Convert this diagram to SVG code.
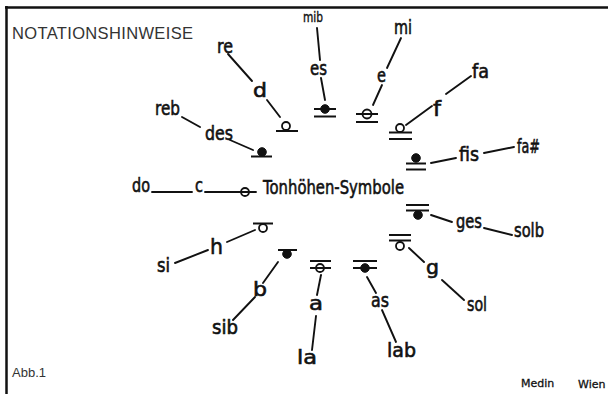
<svg xmlns="http://www.w3.org/2000/svg" width="608" height="394" viewBox="0 0 608 394">
<style>
.hw{font-family:"DejaVu Sans","Liberation Sans",sans-serif;font-size:19px;fill:#111;stroke:#111;stroke-width:0.6}
.sm{font-size:14px;stroke-width:0.4}
.big{font-size:20px}
.tall{font-size:22px}
.sig{font-size:11px;stroke-width:0.3}
.ttl{font-family:"Liberation Sans",Arial,sans-serif;fill:#333}
.ln{stroke:#111;stroke-width:1.9;stroke-linecap:round;fill:none}
.lg{stroke:#111;stroke-width:2;fill:none}
.op{fill:#fff;stroke:#111;stroke-width:1.8}
.fl{fill:#111;stroke:#111;stroke-width:1}
.fr{stroke:#111;stroke-width:2.5;fill:none}
</style>
<rect width="608" height="394" fill="#fff"/>
<g id="frame">
<line class="fr" x1="5" y1="7.5" x2="608" y2="7.5"/>
<line class="fr" x1="6.5" y1="6" x2="6.5" y2="394"/>
</g>
<text class="ttl" x="12" y="39" font-size="16.5" textLength="181" lengthAdjust="spacing">NOTATIONSHINWEISE</text>
<text class="ttl" x="12" y="377" font-size="13">Abb.1</text>
<g id="connectors">
<line class="ln" x1="228" y1="54" x2="252" y2="81"/>
<line class="ln" x1="267" y1="100" x2="280" y2="117"/>
<line class="ln" x1="182" y1="117" x2="200" y2="127"/>
<line class="ln" x1="230" y1="140" x2="253" y2="150"/>
<line class="ln" x1="317" y1="28" x2="320" y2="60"/>
<line class="ln" x1="321" y1="78" x2="325" y2="100"/>
<line class="ln" x1="401" y1="38" x2="387" y2="68"/>
<line class="ln" x1="382" y1="85" x2="373" y2="105"/>
<line class="ln" x1="471" y1="76" x2="446" y2="94"/>
<line class="ln" x1="432" y1="106" x2="406" y2="125"/>
<line class="ln" x1="514" y1="147" x2="484" y2="153"/>
<line class="ln" x1="456" y1="158" x2="431" y2="163"/>
<line class="ln" x1="431" y1="215" x2="452" y2="222"/>
<line class="ln" x1="484" y1="228" x2="512" y2="235"/>
<line class="ln" x1="409" y1="248" x2="424" y2="262"/>
<line class="ln" x1="442" y1="280" x2="464" y2="300"/>
<line class="ln" x1="367" y1="277" x2="376" y2="293"/>
<line class="ln" x1="382" y1="310" x2="396" y2="342"/>
<line class="ln" x1="321" y1="275" x2="317" y2="295"/>
<line class="ln" x1="316" y1="316" x2="312" y2="350"/>
<line class="ln" x1="278" y1="262" x2="263" y2="283"/>
<line class="ln" x1="255" y1="297" x2="233" y2="320"/>
<line class="ln" x1="255" y1="230" x2="227" y2="242"/>
<line class="ln" x1="208" y1="250" x2="175" y2="263"/>
<line class="ln" x1="152" y1="192" x2="192" y2="192"/>
<line class="ln" x1="205" y1="192" x2="256" y2="192"/>
</g>
<g id="node-center"><text class="hw big" x="263" y="194" textLength="141" lengthAdjust="spacingAndGlyphs">Tonhöhen-Symbole</text></g>
<g id="node-c">
<circle class="op" cx="245" cy="192" r="4"/>
<line class="lg" x1="238" y1="192" x2="253" y2="192"/>
<text class="hw" x="132" y="192" textLength="18" lengthAdjust="spacingAndGlyphs">do</text>
<text class="hw" x="195" y="192" textLength="8" lengthAdjust="spacingAndGlyphs">c</text>
</g>
<g id="node-d">
<circle class="op" cx="286" cy="126" r="4"/>
<line class="lg" x1="276" y1="131" x2="298" y2="131"/>
<text class="hw" x="217" y="53" textLength="16" lengthAdjust="spacingAndGlyphs">re</text>
<text class="hw" x="253" y="97" textLength="14" lengthAdjust="spacingAndGlyphs">d</text>
</g>
<g id="node-des">
<circle class="fl" cx="262" cy="152" r="4.3"/>
<line class="lg" x1="251" y1="156.5" x2="272" y2="156.5"/>
<text class="hw" x="155" y="115" textLength="25" lengthAdjust="spacingAndGlyphs">reb</text>
<text class="hw" x="205" y="140" textLength="28" lengthAdjust="spacingAndGlyphs">des</text>
</g>
<g id="node-es">
<circle class="fl" cx="325" cy="109" r="4.3"/>
<line class="lg" x1="314" y1="109" x2="336" y2="109"/>
<line class="lg" x1="314" y1="116.5" x2="336" y2="116.5"/>
<text class="hw sm" x="303" y="22" textLength="20" lengthAdjust="spacingAndGlyphs">mib</text>
<text class="hw" x="310" y="75" textLength="17" lengthAdjust="spacingAndGlyphs">es</text>
</g>
<g id="node-e">
<circle class="op" cx="367" cy="114" r="4.5"/>
<line class="lg" x1="356" y1="114" x2="378" y2="114"/>
<line class="lg" x1="356" y1="122" x2="378" y2="122"/>
<text class="hw" x="394" y="34" textLength="18" lengthAdjust="spacingAndGlyphs">mi</text>
<text class="hw" x="377" y="82" textLength="9" lengthAdjust="spacingAndGlyphs">e</text>
</g>
<g id="node-f">
<circle class="op" cx="400" cy="128" r="4"/>
<line class="lg" x1="389" y1="132.5" x2="412" y2="132.5"/>
<line class="lg" x1="389" y1="139" x2="412" y2="139"/>
<text class="hw" x="472" y="78" textLength="17" lengthAdjust="spacingAndGlyphs">fa</text>
<text class="hw tall" x="433" y="116" textLength="8" lengthAdjust="spacingAndGlyphs">f</text>
</g>
<g id="node-fis">
<circle class="fl" cx="416" cy="158" r="4.3"/>
<line class="lg" x1="406" y1="163.5" x2="426" y2="163.5"/>
<line class="lg" x1="406" y1="169.5" x2="426" y2="169.5"/>
<text class="hw" x="517" y="153" textLength="23" lengthAdjust="spacingAndGlyphs">fa#</text>
<text class="hw" x="459" y="161" textLength="20" lengthAdjust="spacingAndGlyphs">fis</text>
</g>
<g id="node-ges">
<line class="lg" x1="406" y1="205" x2="429" y2="205"/>
<line class="lg" x1="406" y1="210.5" x2="429" y2="210.5"/>
<circle class="fl" cx="418" cy="215" r="4.3"/>
<text class="hw" x="456" y="228" textLength="26" lengthAdjust="spacingAndGlyphs">ges</text>
<text class="hw" x="514" y="237" textLength="30" lengthAdjust="spacingAndGlyphs">solb</text>
</g>
<g id="node-g">
<line class="lg" x1="389" y1="235" x2="411" y2="235"/>
<line class="lg" x1="389" y1="240.5" x2="411" y2="240.5"/>
<circle class="op" cx="400" cy="246" r="4"/>
<text class="hw" x="426" y="274" textLength="13" lengthAdjust="spacingAndGlyphs">g</text>
<text class="hw" x="467" y="311" textLength="20" lengthAdjust="spacingAndGlyphs">sol</text>
</g>
<g id="node-as">
<line class="lg" x1="353" y1="261" x2="377" y2="261"/>
<line class="lg" x1="353" y1="268" x2="377" y2="268"/>
<circle class="fl" cx="365" cy="268" r="4.3"/>
<text class="hw" x="371" y="307" textLength="18" lengthAdjust="spacingAndGlyphs">as</text>
<text class="hw" x="387" y="357" textLength="29" lengthAdjust="spacingAndGlyphs">lab</text>
</g>
<g id="node-a">
<line class="lg" x1="310" y1="261" x2="331" y2="261"/>
<circle class="op" cx="320" cy="268" r="4"/>
<line class="lg" x1="310" y1="268" x2="331" y2="268"/>
<text class="hw" x="309" y="310" textLength="14" lengthAdjust="spacingAndGlyphs">a</text>
<text class="hw" x="297" y="364" textLength="20" lengthAdjust="spacingAndGlyphs">la</text>
</g>
<g id="node-b">
<line class="lg" x1="278" y1="250" x2="297" y2="250"/>
<circle class="fl" cx="287" cy="254" r="4.3"/>
<text class="hw" x="253" y="296" textLength="14" lengthAdjust="spacingAndGlyphs">b</text>
<text class="hw" x="212" y="334" textLength="26" lengthAdjust="spacingAndGlyphs">sib</text>
</g>
<g id="node-h">
<line class="lg" x1="253" y1="223.5" x2="273" y2="223.5"/>
<circle class="op" cx="263" cy="228" r="4"/>
<text class="hw tall" x="210" y="254" textLength="13" lengthAdjust="spacingAndGlyphs">h</text>
<text class="hw" x="157" y="272" textLength="13" lengthAdjust="spacingAndGlyphs">si</text>
</g>
<g id="signature">
<text class="hw sig" x="521" y="387">Medin</text>
<text class="hw sig" x="578" y="388">Wien</text>
</g>
</svg>
